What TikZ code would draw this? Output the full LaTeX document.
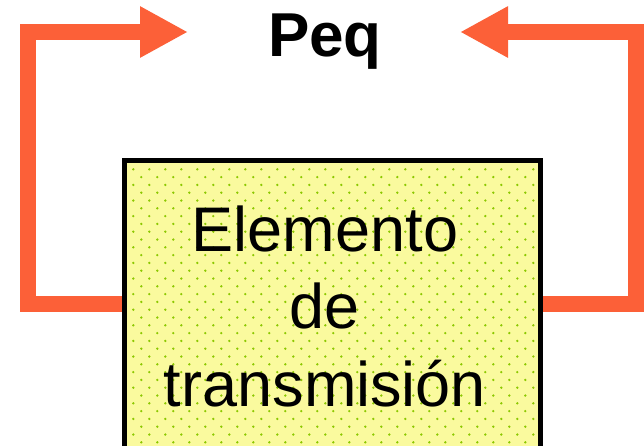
\documentclass[tikz,border=0pt]{standalone}
\usepackage{fontspec}
\setmainfont{Liberation Sans}
\usetikzlibrary{arrows.meta}
\definecolor{arroworange}{RGB}{252,96,56}
\definecolor{boxyellow}{RGB}{250,250,158}
\definecolor{dotgreen}{RGB}{140,200,0}
\tikzset{
  feedback/.style={draw=arroworange, line width=16pt, line join=miter,
    -{Triangle[length=48pt,width=48pt]}},
  elembox/.style={draw=black, line width=5pt, fill=boxyellow, rectangle,
    minimum width=415.5pt, minimum height=320pt, inner sep=0pt},
  bigtext/.style={font=\fontsize{63}{77.5}\selectfont, align=center, inner sep=0pt},
  peqtext/.style={font=\bfseries\fontsize{62}{62}\selectfont, inner sep=0pt}
}
\begin{document}
\begin{tikzpicture}[x=1pt,y=-1pt]
\useasboundingbox (0,0) rectangle (644,445);
\clip (0,0) rectangle (644,445);
\fill[white] (0,0) rectangle (644,445);
% feedback arrows (behind the box)
\node[elembox] (box) at (332.25,320) {};
\coordinate (lout) at (box.west |- 0,304);
\coordinate (rout) at (box.east |- 0,304);
\coordinate (ltip) at (188,32);
\coordinate (rtip) at (460,32);
\draw[feedback] (lout) -- (28,304) -- (28,32) -- (ltip);
\draw[feedback] (rout) -- (636,304) -- (636,32) -- (rtip);
% dots
\begin{scope}
  \clip (127,163) rectangle (537.5,480);
  \foreach \r in {0,...,40} {
    \pgfmathsetmacro{\yy}{169.3+7.8*\r}
    \pgfmathsetmacro{\off}{mod(\r,2)*8}
    \foreach \c in {0,...,26} {
      \fill[dotgreen] ({133.3+16*\c+\off},\yy) circle (1.3pt);
    }
  }
\end{scope}
\node[elembox, fill=none] (boxborder) at (332.25,320) {};
% labels
\node[peqtext, anchor=base] (peq) at (325,56) {Peq};
\node[bigtext, anchor=base] (txt) at (325,406) {Elemento\\de\\transmisión};
\end{tikzpicture}
\end{document}
